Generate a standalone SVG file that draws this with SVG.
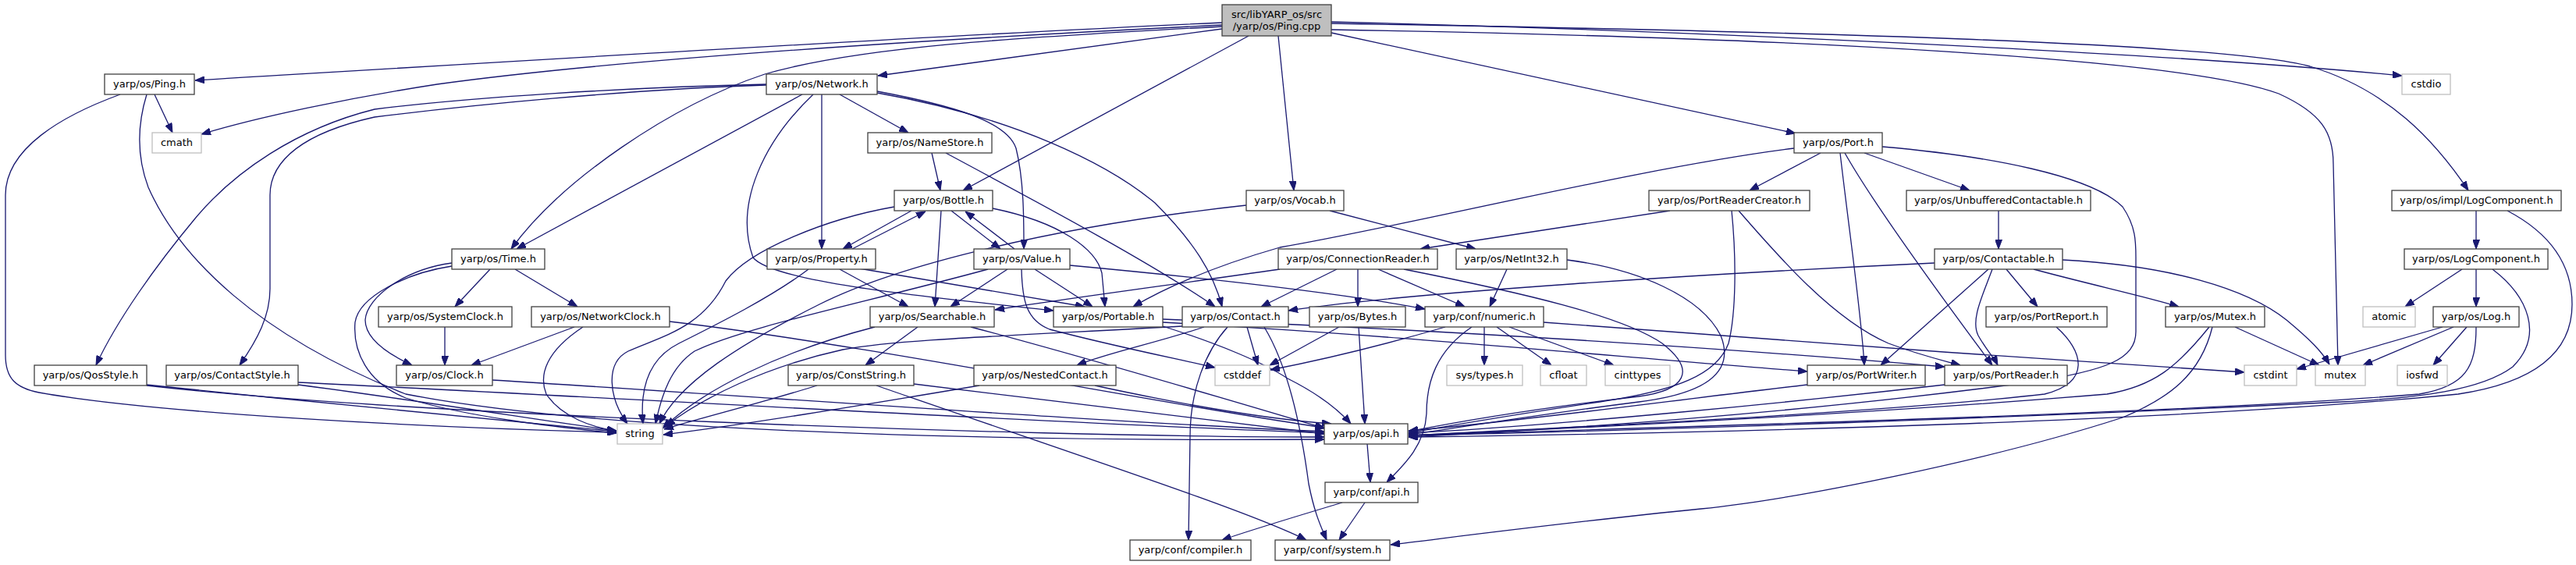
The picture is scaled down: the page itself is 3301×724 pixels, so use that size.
<svg xmlns="http://www.w3.org/2000/svg" width="3301" height="724" viewBox="0 0 3301 724">
<style>
.n rect{fill:#fff;stroke:#404040;stroke-width:1.3}
.g rect{fill:#fff;stroke:#bfbfbf;stroke-width:1.3}
.r rect{fill:#bfbfbf;stroke:#404040;stroke-width:1.3}
text{font-family:"DejaVu Sans","Liberation Sans",sans-serif;font-size:13px;text-anchor:middle;fill:#000}
#edges path{fill:none;stroke:#191970;stroke-width:1.3;marker-end:url(#a)}
</style>
<defs>
<marker id="a" viewBox="0 0 12 9" refX="12" refY="4.5" markerWidth="12" markerHeight="9" markerUnits="userSpaceOnUse" orient="auto">
<path d="M0,0 L12,4.5 L0,9 z" fill="#191970" stroke="#191970" stroke-width="1"/>
</marker>
</defs>
<rect width="3301" height="724" fill="#fff"/>
<g id="edges">
<path d="M1566,29 C1200,45 600,82 250,103"/>
<path d="M1566,32 C1200,50 800,75 560,108 C450,125 330,150 258,172"/>
<path d="M1566,37 L1125,97"/>
<path d="M1566,34 C1300,48 1100,60 980,95 C860,135 720,230 655,319"/>
<path d="M1600,46 L1234,244"/>
<path d="M1638,46 L1658,244"/>
<path d="M1706,42 L2301,171"/>
<path d="M1706,28 C2200,40 2800,70 3078,97"/>
<path d="M1706,30 C2300,40 2850,55 2960,85 C3060,115 3120,180 3163,244"/>
<path d="M1706,38 C2300,48 2800,75 2920,120 C2975,145 2990,170 2990,210 L2996,468"/>
<path d="M198,121 L221,170"/>
<path d="M154,121 C80,148 7,190 7,250 L7,455 C7,485 20,497 50,503 C200,530 550,548 790,554"/>
<path d="M188,121 C176,160 175,200 190,240 C230,330 330,430 520,505 C800,560 1400,565 1697,563"/>
<path d="M982,108 C800,112 600,125 480,140 C380,165 300,220 250,280 C200,340 150,410 123,468"/>
<path d="M982,109 C800,115 600,135 480,150 C390,170 346,205 346,250 L346,370 C346,405 330,435 307,468"/>
<path d="M1028,121 L662,319"/>
<path d="M1053,121 L1053,319"/>
<path d="M1076,121 L1164,170"/>
<path d="M1124,117 C1220,135 1290,155 1302,190 C1312,230 1312,280 1312,319"/>
<path d="M1124,119 C1300,150 1420,210 1480,260 C1530,310 1555,350 1566,393"/>
<path d="M1042,121 C980,180 940,260 965,330 C990,362 1200,382 1350,398"/>
<path d="M1194,196 L1205,244"/>
<path d="M1212,196 C1350,270 1480,340 1557,393"/>
<path d="M1704,270 L1891,319"/>
<path d="M1597,263 C1350,290 1150,340 1050,390 C950,440 870,490 845,543"/>
<path d="M1168,270 L1080,319"/>
<path d="M1092,319 L1186,271"/>
<path d="M1219,270 L1282,319"/>
<path d="M1300,319 L1237,271"/>
<path d="M1206,270 L1198,393"/>
<path d="M1272,267 C1360,285 1405,320 1412,350 L1416,393"/>
<path d="M1146,265 C1060,280 960,320 930,360 C900,420 850,430 805,450 C775,465 780,510 804,543"/>
<path d="M1076,345 L1164,393"/>
<path d="M1101,344 L1390,393"/>
<path d="M1036,345 C990,380 920,415 870,440 C830,460 820,500 824,543"/>
<path d="M1291,345 L1218,393"/>
<path d="M1326,345 L1400,393"/>
<path d="M1371,340 C1500,352 1700,372 1826,396"/>
<path d="M1309,345 C1310,385 1315,410 1345,422 C1420,442 1500,458 1557,471"/>
<path d="M1266,345 C1100,390 950,420 890,450 C860,470 848,505 840,543"/>
<path d="M1176,419 L1109,468"/>
<path d="M1121,419 C1000,450 900,500 849,549"/>
<path d="M1244,419 C1400,460 1600,520 1698,549"/>
<path d="M1255,494 C1100,520 950,545 850,557"/>
<path d="M1403,494 C1500,515 1620,537 1706,543"/>
<path d="M1047,494 C980,515 900,535 851,550"/>
<path d="M1171,492 C1400,520 1600,545 1697,556"/>
<path d="M1123,494 C1400,590 1600,655 1674,692"/>
<path d="M1543,419 C1480,440 1420,452 1380,468"/>
<path d="M1573,419 C1545,450 1525,500 1525,560 L1523,692"/>
<path d="M1515,418 C1300,430 1150,435 1080,448 C980,470 900,510 853,546"/>
<path d="M1598,419 L1612,468"/>
<path d="M1620,419 C1645,460 1665,530 1677,620 C1685,660 1693,675 1700,692"/>
<path d="M1640,345 C1500,365 1350,385 1275,397"/>
<path d="M1713,345 L1616,393"/>
<path d="M1740,345 L1740,393"/>
<path d="M1766,345 L1877,393"/>
<path d="M1799,345 C1950,375 2080,405 2130,440 C2175,475 2160,500 2100,508 C1980,522 1870,540 1805,553"/>
<path d="M1741,419 L1749,543"/>
<path d="M1716,419 L1627,468"/>
<path d="M1852,419 C1780,440 1700,460 1628,474"/>
<path d="M1902,419 L1902,468"/>
<path d="M1918,419 L1988,468"/>
<path d="M1934,419 L2068,468"/>
<path d="M1886,419 C1840,450 1828,490 1828,530 C1826,570 1800,595 1777,618"/>
<path d="M1978,413 C2200,430 2600,460 2876,477"/>
<path d="M1931,345 L1909,393"/>
<path d="M2008,333 C2100,345 2180,380 2205,430 C2225,480 2180,505 2100,515 C1980,530 1870,548 1805,557"/>
<path d="M2333,196 L2242,244"/>
<path d="M2389,196 L2524,244"/>
<path d="M2358,196 C2370,300 2385,400 2389,468"/>
<path d="M2364,196 C2400,260 2480,370 2553,468"/>
<path d="M2412,188 C2550,200 2680,225 2720,265 C2737,290 2737,310 2737,330 L2737,425 C2737,460 2700,475 2600,490 C2300,530 2000,550 1805,560"/>
<path d="M2299,190 C2100,215 1800,290 1640,317 C1560,340 1500,365 1452,393"/>
<path d="M2140,270 L1820,319"/>
<path d="M2228,270 C2280,330 2350,410 2420,440 C2460,455 2490,462 2512,468"/>
<path d="M2219,270 C2225,330 2225,400 2215,440 C2200,480 2150,500 2050,515 C1950,530 1860,545 1805,555"/>
<path d="M2561,270 L2561,319"/>
<path d="M2479,337 C2200,350 1800,375 1651,398"/>
<path d="M2548,345 L2410,468"/>
<path d="M2553,345 C2540,380 2525,410 2535,430 C2545,448 2555,458 2560,468"/>
<path d="M2571,345 L2611,393"/>
<path d="M2606,345 C2680,365 2750,380 2792,393"/>
<path d="M2643,333 C2780,340 2880,370 2930,410 C2960,435 2975,450 2985,467"/>
<path d="M2635,419 C2670,450 2680,490 2620,505 C2400,530 2000,548 1805,558"/>
<path d="M2316,493 C2150,512 1950,540 1805,552"/>
<path d="M2492,493 C2300,515 2000,545 1805,555"/>
<path d="M1490,413 C1800,430 2100,460 2316,476"/>
<path d="M1490,409 C1800,420 2200,445 2492,470"/>
<path d="M1490,418 C1560,440 1620,465 1650,485 C1690,505 1715,525 1731,543"/>
<path d="M628,345 L583,393"/>
<path d="M660,345 L740,393"/>
<path d="M579,337 C520,345 470,380 468,410 C468,435 500,455 528,468"/>
<path d="M579,341 C520,350 460,380 455,413 C452,450 470,490 520,510 C600,535 720,548 790,555"/>
<path d="M570,419 L570,468"/>
<path d="M736,419 L604,468"/>
<path d="M747,419 C700,450 690,480 700,505 C720,535 760,548 790,552"/>
<path d="M858,412 C1100,440 1500,520 1697,548"/>
<path d="M631,487 C1000,510 1400,540 1697,553"/>
<path d="M188,493 C400,515 650,540 790,553"/>
<path d="M188,494 C500,530 1300,560 1697,560"/>
<path d="M382,493 C550,515 700,540 790,552"/>
<path d="M382,490 C700,505 1300,540 1697,555"/>
<path d="M2864,419 L2972,468"/>
<path d="M2831,419 C2790,470 2760,495 2700,505 C2400,530 2000,550 1805,558"/>
<path d="M2835,419 C2820,480 2780,510 2720,535 C2550,590 2300,640 2180,652 C2000,670 1850,690 1782,698"/>
<path d="M3130,419 L2943,473"/>
<path d="M3144,419 L3028,468"/>
<path d="M3161,419 L3118,468"/>
<path d="M3173,419 C3173,470 3160,495 3100,505 C2800,530 2200,545 1805,558"/>
<path d="M3155,345 L3082,393"/>
<path d="M3173,345 L3173,393"/>
<path d="M3194,345 C3240,380 3260,430 3220,470 C3180,500 3100,510 3000,515 C2600,535 2100,552 1805,558"/>
<path d="M3173,270 L3173,319"/>
<path d="M3213,270 C3270,300 3296,340 3296,390 C3296,450 3250,490 3150,505 C2800,540 2200,555 1805,560"/>
<path d="M1752,569 L1756,618"/>
<path d="M1749,644 L1716,692"/>
<path d="M1720,644 C1650,665 1600,680 1566,692"/>
</g>
<g id="n_root" class="r"><rect x="1566" y="6" width="140" height="40"/><text x="1636" y="22.5">src/libYARP_os/src</text><text x="1636" y="38">/yarp/os/Ping.cpp</text></g>
<g id="n_ping_h" class="n"><rect x="134" y="95" width="115" height="26"/><text x="191.5" y="112">yarp/os/Ping.h</text></g>
<g id="n_cmath" class="g"><rect x="195" y="170" width="63" height="26"/><text x="226.5" y="187">cmath</text></g>
<g id="n_network" class="n"><rect x="982" y="95" width="142" height="26"/><text x="1053" y="112">yarp/os/Network.h</text></g>
<g id="n_cstdio" class="g"><rect x="3078" y="95" width="62" height="26"/><text x="3109" y="112">cstdio</text></g>
<g id="n_namestore" class="n"><rect x="1112" y="170" width="159" height="26"/><text x="1191.5" y="187">yarp/os/NameStore.h</text></g>
<g id="n_port" class="n"><rect x="2299" y="170" width="113" height="26"/><text x="2355.5" y="187">yarp/os/Port.h</text></g>
<g id="n_bottle" class="n"><rect x="1146" y="244" width="126" height="26"/><text x="1209" y="261">yarp/os/Bottle.h</text></g>
<g id="n_vocab" class="n"><rect x="1597" y="244" width="125" height="26"/><text x="1659.5" y="261">yarp/os/Vocab.h</text></g>
<g id="n_prc" class="n"><rect x="2113" y="244" width="206" height="26"/><text x="2216" y="261">yarp/os/PortReaderCreator.h</text></g>
<g id="n_uc" class="n"><rect x="2443" y="244" width="236" height="26"/><text x="2561" y="261">yarp/os/UnbufferedContactable.h</text></g>
<g id="n_ilc" class="n"><rect x="3065" y="244" width="217" height="26"/><text x="3173.5" y="261">yarp/os/impl/LogComponent.h</text></g>
<g id="n_time" class="n"><rect x="579" y="319" width="119" height="26"/><text x="638.5" y="336">yarp/os/Time.h</text></g>
<g id="n_property" class="n"><rect x="983" y="319" width="139" height="26"/><text x="1052.5" y="336">yarp/os/Property.h</text></g>
<g id="n_value" class="n"><rect x="1248" y="319" width="123" height="26"/><text x="1309.5" y="336">yarp/os/Value.h</text></g>
<g id="n_connreader" class="n"><rect x="1638" y="319" width="204" height="26"/><text x="1740" y="336">yarp/os/ConnectionReader.h</text></g>
<g id="n_netint32" class="n"><rect x="1866" y="319" width="142" height="26"/><text x="1937" y="336">yarp/os/NetInt32.h</text></g>
<g id="n_contactable" class="n"><rect x="2479" y="319" width="164" height="26"/><text x="2561" y="336">yarp/os/Contactable.h</text></g>
<g id="n_logcomp" class="n"><rect x="3081" y="319" width="184" height="26"/><text x="3173" y="336">yarp/os/LogComponent.h</text></g>
<g id="n_sysclock" class="n"><rect x="485" y="393" width="171" height="26"/><text x="570.5" y="410">yarp/os/SystemClock.h</text></g>
<g id="n_netclock" class="n"><rect x="681" y="393" width="177" height="26"/><text x="769.5" y="410">yarp/os/NetworkClock.h</text></g>
<g id="n_searchable" class="n"><rect x="1115" y="393" width="159" height="26"/><text x="1194.5" y="410">yarp/os/Searchable.h</text></g>
<g id="n_portable" class="n"><rect x="1350" y="393" width="140" height="26"/><text x="1420" y="410">yarp/os/Portable.h</text></g>
<g id="n_contact" class="n"><rect x="1515" y="393" width="136" height="26"/><text x="1583" y="410">yarp/os/Contact.h</text></g>
<g id="n_bytes" class="n"><rect x="1678" y="393" width="123" height="26"/><text x="1739.5" y="410">yarp/os/Bytes.h</text></g>
<g id="n_numeric" class="n"><rect x="1826" y="393" width="152" height="26"/><text x="1902" y="410">yarp/conf/numeric.h</text></g>
<g id="n_portreport" class="n"><rect x="2545" y="393" width="155" height="26"/><text x="2622.5" y="410">yarp/os/PortReport.h</text></g>
<g id="n_mutex_h" class="n"><rect x="2775" y="393" width="127" height="26"/><text x="2838.5" y="410">yarp/os/Mutex.h</text></g>
<g id="n_atomic" class="g"><rect x="3028" y="393" width="67" height="26"/><text x="3061.5" y="410">atomic</text></g>
<g id="n_log" class="n"><rect x="3118" y="393" width="110" height="26"/><text x="3173" y="410">yarp/os/Log.h</text></g>
<g id="n_qos" class="n"><rect x="44" y="468" width="144" height="26"/><text x="116" y="485">yarp/os/QosStyle.h</text></g>
<g id="n_contactstyle" class="n"><rect x="213" y="468" width="169" height="26"/><text x="297.5" y="485">yarp/os/ContactStyle.h</text></g>
<g id="n_clock" class="n"><rect x="508" y="468" width="123" height="26"/><text x="569.5" y="485">yarp/os/Clock.h</text></g>
<g id="n_conststring" class="n"><rect x="1010" y="468" width="161" height="26"/><text x="1090.5" y="485">yarp/os/ConstString.h</text></g>
<g id="n_nested" class="n"><rect x="1248" y="468" width="182" height="26"/><text x="1339" y="485">yarp/os/NestedContact.h</text></g>
<g id="n_cstddef" class="g"><rect x="1557" y="468" width="70" height="26"/><text x="1592" y="485">cstddef</text></g>
<g id="n_systypes" class="g"><rect x="1854" y="468" width="97" height="26"/><text x="1902.5" y="485">sys/types.h</text></g>
<g id="n_cfloat" class="g"><rect x="1974" y="468" width="59" height="26"/><text x="2003.5" y="485">cfloat</text></g>
<g id="n_cinttypes" class="g"><rect x="2057" y="468" width="83" height="26"/><text x="2098.5" y="485">cinttypes</text></g>
<g id="n_portwriter" class="n"><rect x="2316" y="468" width="151" height="26"/><text x="2391.5" y="485">yarp/os/PortWriter.h</text></g>
<g id="n_portreader" class="n"><rect x="2492" y="468" width="157" height="26"/><text x="2570.5" y="485">yarp/os/PortReader.h</text></g>
<g id="n_cstdint" class="g"><rect x="2876" y="468" width="67" height="26"/><text x="2909.5" y="485">cstdint</text></g>
<g id="n_mutex" class="g"><rect x="2967" y="468" width="64" height="26"/><text x="2999" y="485">mutex</text></g>
<g id="n_iosfwd" class="g"><rect x="3072" y="468" width="64" height="26"/><text x="3104" y="485">iosfwd</text></g>
<g id="n_string" class="g"><rect x="791" y="543" width="58" height="26"/><text x="820" y="560">string</text></g>
<g id="n_os_api" class="n"><rect x="1697" y="543" width="107" height="26"/><text x="1750.5" y="560">yarp/os/api.h</text></g>
<g id="n_conf_api" class="n"><rect x="1698" y="618" width="119" height="26"/><text x="1757.5" y="635">yarp/conf/api.h</text></g>
<g id="n_compiler" class="n"><rect x="1448" y="692" width="155" height="26"/><text x="1525.5" y="709">yarp/conf/compiler.h</text></g>
<g id="n_system" class="n"><rect x="1634" y="692" width="147" height="26"/><text x="1707.5" y="709">yarp/conf/system.h</text></g>
</svg>
